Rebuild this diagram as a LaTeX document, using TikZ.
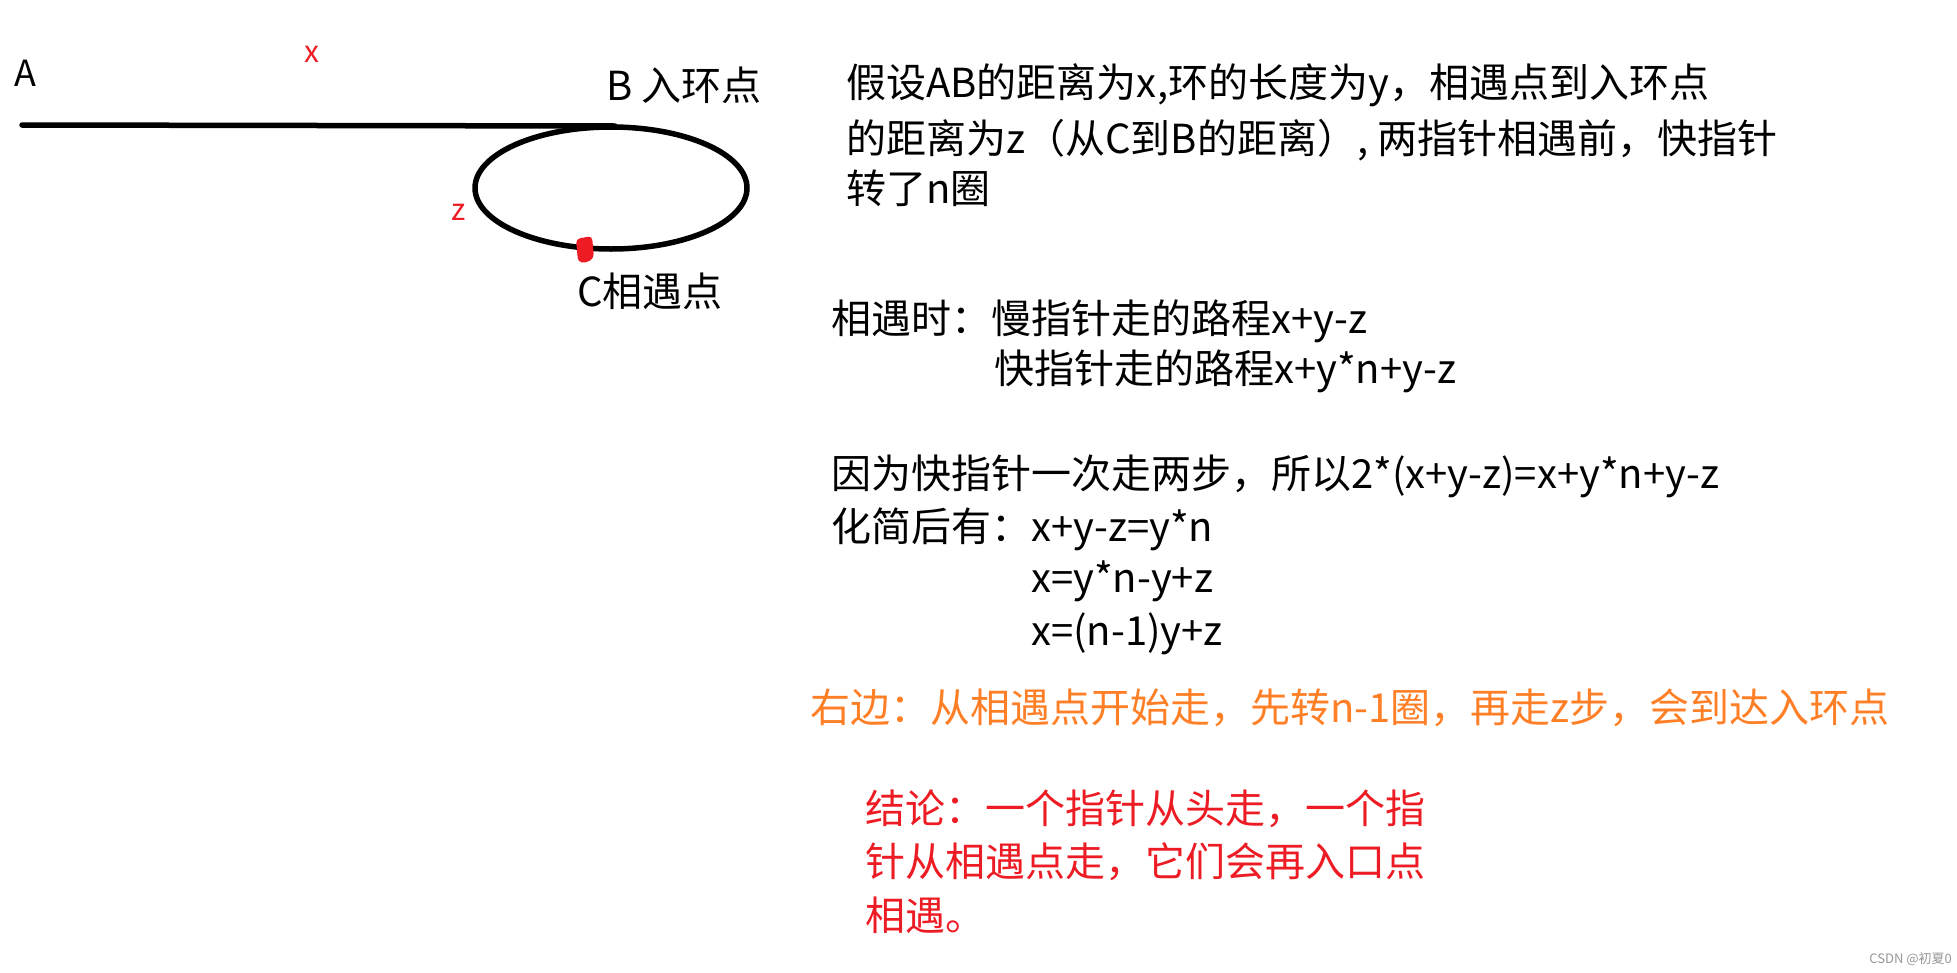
\documentclass[tikz,border=0pt]{standalone}
\usepackage{fontspec}
\setmainfont{Noto Sans CJK SC}
\definecolor{paintred}{RGB}{237,28,36}
\definecolor{paintorange}{RGB}{255,127,39}
\definecolor{markgray}{RGB}{150,150,150}
\begin{document}
\begin{tikzpicture}[x=1pt,y=-1pt,
  txt/.style={inner sep=0pt, anchor=west, font=\fontsize{40}{48}\selectfont},
  lbl/.style={inner sep=0pt, font=\fontsize{36}{42}\selectfont},
  redlbl/.style={lbl, text=paintred, font=\fontsize{30}{36}\selectfont},
  orangetxt/.style={txt, text=paintorange},
  redtxt/.style={txt, text=paintred},
  path/.style={line width=5.5pt, line cap=round}]
\useasboundingbox (0,0) rectangle (1957,972);
% drawing
\node[lbl] (A) at (25,73) {A};
\node[redlbl] (xl) at (312,54) {x};
\coordinate (start) at (22,125);
\coordinate (B) at (615,126);
\draw[path] (start) -- (B);
\draw[line width=5.5pt] (611,188) ellipse [x radius=136pt, y radius=61pt];
\node[redlbl] (zl) at (459,212) {z};
\node[txt, anchor=west] (Bl) at (606,85) {B 入环点};
\node[txt, anchor=west] (Cl) at (577,291) {C相遇点};
\fill[paintred, rounded corners=4pt] (576,239) -- (592,236) -- (594,258) -- (586,263) -- (578,262) -- cycle;
\node[inner sep=0pt] (C) at (585,250) {};
% text block
\node[txt] (t1) at (846,85) {假设AB的距离为x,环的长度为y，相遇点到入环点};
\node[txt] (t2) at (846,140) {的距离为z（从C到B的距离）, 两指针相遇前，快指针};
\node[txt] (t3) at (846,188) {转了n圈};
\node[txt] (t4) at (831,321) {相遇时：慢指针走的路程x+y-z};
\node[txt] (t5) at (994,371) {快指针走的路程x+y*n+y-z};
\node[txt] (t6) at (831,476) {因为快指针一次走两步，所以2*(x+y-z)=x+y*n+y-z};
\node[txt] (t7) at (831,529) {化简后有：x+y-z=y*n};
\node[txt] (t8) at (1031,581) {x=y*n-y+z};
\node[txt] (t9) at (1031,634) {x=(n-1)y+z};
\node[orangetxt] (t10) at (810,708) {右边：从相遇点开始走，先转n-1圈，再走z步，会到达入环点};
\node[redtxt] (t11) at (865,809) {结论：一个指针从头走，一个指};
\node[redtxt] (t12) at (865,862) {针从相遇点走，它们会再入口点};
\node[redtxt] (t13) at (865,915) {相遇。};
\node[inner sep=0pt, anchor=east, text=markgray, font=\fontsize{13}{15}\selectfont] (wm) at (1952,959) {CSDN @初夏0};
\end{tikzpicture}
\end{document}
